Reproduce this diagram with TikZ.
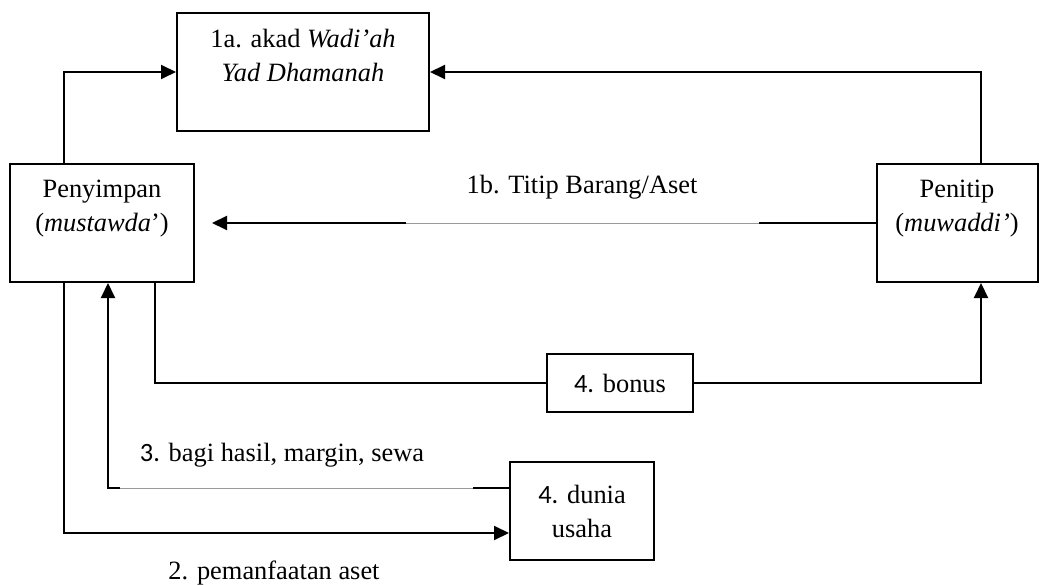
\documentclass[tikz,border=0pt]{standalone}
\usepackage{fontspec}
\setmainfont{Liberation Serif}
\newfontfamily\numfont{Carlito}
\usepackage{tikz}
\usetikzlibrary{arrows.meta, positioning}

\begin{document}
\begin{tikzpicture}[x=1pt,y=-1pt,
  font=\fontsize{26.4}{34}\selectfont,
  box/.style={draw,line width=2pt,align=center,inner sep=0pt},
  line/.style={line width=2pt},
  arrow/.style={line width=2pt,-{Triangle[length=15pt,width=14pt]}},
  fadeline/.style={line width=0.8pt,black!40},
  lbl/.style={inner sep=0pt}]
  \useasboundingbox (0,0) rectangle (1041,585);
  % boxes
  \node[box,minimum width=252,minimum height=118] (akad) at (303,72)
    {1a. akad \textit{Wadi’ah}\\\textit{Yad Dhamanah}\\~};
  \node[box,minimum width=184,minimum height=118] (penyimpan) at (102,223)
    {Penyimpan\\(\textit{mustawda}’)\\~};
  \node[box,minimum width=161,minimum height=118] (penitip) at (957,223)
    {Penitip\\(\textit{muwaddi’})\\~};
  \node[box,minimum width=146,minimum height=58] (bonus) at (620,383)
    {{\numfont 4.} bonus};
  \node[box,minimum width=144,minimum height=98] (dunia) at (582,511)
    {{\numfont 4.} dunia\\usaha};
  % labels
  \node[lbl] (lbl1b) at (582,187) {1b. Titip Barang/Aset};
  \node[lbl] (lbl3) at (282,455) {{\numfont 3.} bagi hasil, margin, sewa};
  \node[lbl] (lbl2) at (274,573) {2. pemanfaatan aset};
  % 1a
  \draw[arrow] (penyimpan.north -| 64,0) |- (akad.west);
  \draw[arrow] (penitip.north -| 981,0) |- (akad.east);
  % 1b
  \coordinate (b1r) at (759,223);
  \coordinate (b1l) at (406,223);
  \draw[line] (penitip.west) -- (b1r);
  \draw[fadeline] (b1r) -- (b1l);
  \draw[arrow,shorten >=17pt] (b1l) -- (penyimpan.east);
  % bonus
  \draw[line] (penyimpan.south -| 155,0) |- (bonus.west);
  \draw[arrow] (bonus.east) -| (penitip.south -| 981,0);
  % 3
  \coordinate (r3) at (473,488);
  \coordinate (l3) at (120,488);
  \draw[line] (dunia.west |- r3) -- (r3);
  \draw[fadeline] (r3) -- (l3);
  \draw[arrow] (l3) -| (penyimpan.south -| 108,0);
  % 2
  \draw[arrow] (penyimpan.south -| 64,0) |- (dunia.west |- 0,533);
\end{tikzpicture}
\end{document}
